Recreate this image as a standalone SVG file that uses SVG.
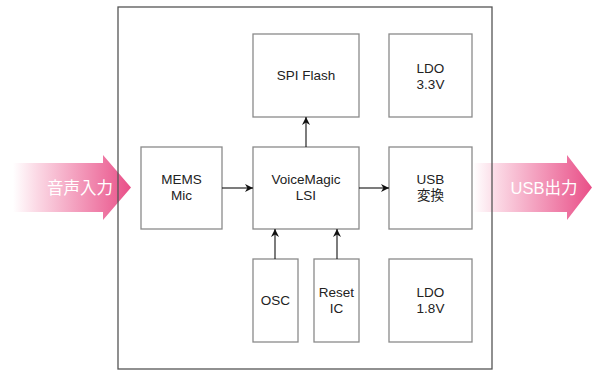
<svg xmlns="http://www.w3.org/2000/svg" width="592" height="374" viewBox="0 0 592 374">
<defs>
<linearGradient id="gl" x1="0" y1="0" x2="1" y2="0">
<stop offset="0" stop-color="#ffffff"/>
<stop offset="0.2" stop-color="#fbd9e5"/>
<stop offset="1" stop-color="#e94f88"/>
</linearGradient>
<linearGradient id="gr" x1="0" y1="0" x2="1" y2="0">
<stop offset="0" stop-color="#ffffff"/>
<stop offset="0.2" stop-color="#fbd9e5"/>
<stop offset="1" stop-color="#e94f88"/>
</linearGradient>
<marker id="ah" viewBox="0 0 10 10" refX="10" refY="5" markerWidth="8" markerHeight="8" markerUnits="userSpaceOnUse" orient="auto">
<path d="M0,0 L10,5 L0,10 L3,5 Z" fill="#111"/>
</marker>
<style>
.box{fill:#fff;stroke:#8a8a8a;stroke-width:1.3}
.t{font-family:"Liberation Sans","Noto Sans CJK JP",sans-serif;font-size:13.5px;fill:#222;text-anchor:middle}
.big{font-family:"Liberation Sans","Noto Sans CJK JP",sans-serif;font-size:16.5px;fill:#fff;text-anchor:middle}
.c{stroke:#111;stroke-width:1.1;fill:none;marker-end:url(#ah)}
</style>
</defs>
<g id="in-arrow">
<path d="M13,163 L103,163 L103,155 L131,187.5 L103,220 L103,212 L13,212 Z" fill="url(#gl)"/>
<text class="big" x="80" y="193.5">音声入力</text>
</g>
<g id="out-arrow">
<path d="M473,163 L567,163 L567,155 L592,187.5 L567,220 L567,212 L473,212 Z" fill="url(#gr)"/>
<text class="big" x="544" y="193.5">USB出力</text>
</g>
<g id="frame">
<rect x="118" y="7" width="374" height="362" fill="none" stroke="#555" stroke-width="1.3"/>
</g>
<g id="spi"><rect class="box" x="253" y="34" width="106" height="83"/><text class="t" x="306" y="80">SPI Flash</text></g>
<g id="ldo33"><rect class="box" x="389" y="34" width="83" height="83"/><text class="t" x="430.5" y="73">LDO</text><text class="t" x="430.5" y="89">3.3V</text></g>
<g id="mems"><rect class="box" x="141" y="147" width="81" height="82"/><text class="t" x="181.5" y="184">MEMS</text><text class="t" x="181.5" y="200">Mic</text></g>
<g id="lsi"><rect class="box" x="253" y="147" width="106" height="82"/><text class="t" x="306" y="184">VoiceMagic</text><text class="t" x="306" y="200">LSI</text></g>
<g id="usb"><rect class="box" x="389" y="147" width="83" height="82"/><text class="t" x="430.5" y="184">USB</text><text class="t" x="430.5" y="200">変換</text></g>
<g id="osc"><rect class="box" x="253" y="259" width="45" height="83"/><text class="t" x="275.5" y="305">OSC</text></g>
<g id="reset"><rect class="box" x="314" y="259" width="45" height="83"/><text class="t" x="336.5" y="297">Reset</text><text class="t" x="336.5" y="313">IC</text></g>
<g id="ldo18"><rect class="box" x="389" y="259" width="83" height="83"/><text class="t" x="430.5" y="297">LDO</text><text class="t" x="430.5" y="313">1.8V</text></g>
<g id="connectors">
<line class="c" x1="222" y1="188" x2="253" y2="188"/>
<line class="c" x1="359" y1="188" x2="389" y2="188"/>
<line class="c" x1="306" y1="147" x2="306" y2="117"/>
<line class="c" x1="275" y1="259" x2="275" y2="229"/>
<line class="c" x1="337" y1="259" x2="337" y2="229"/>
</g>
</svg>
